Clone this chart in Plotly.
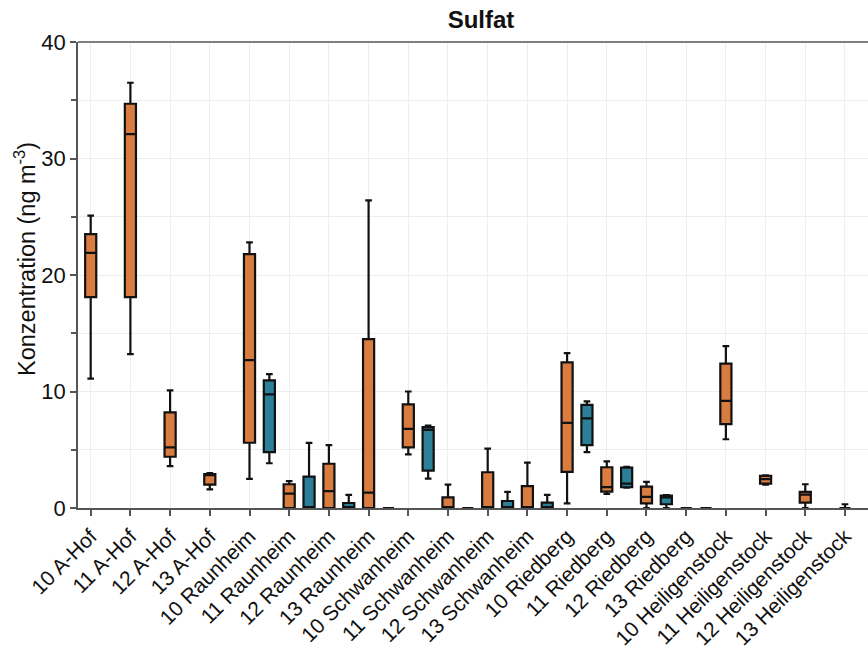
import plotly.graph_objects as go

categories = ["10 A-Hof", "11 A-Hof", "12 A-Hof", "13 A-Hof",
              "10 Raunheim", "11 Raunheim", "12 Raunheim", "13 Raunheim",
              "10 Schwanheim", "11 Schwanheim", "12 Schwanheim", "13 Schwanheim",
              "10 Riedberg", "11 Riedberg", "12 Riedberg", "13 Riedberg",
              "10 Heiligenstock", "11 Heiligenstock", "12 Heiligenstock", "13 Heiligenstock"]

# Orange series (one box per category)
orange_low = [11.1, 13.2, 3.6, 1.6, 2.5, 0.0, 0.0, 0.0, 4.6, 0.0, 0.0, 0.0, 0.4, 1.2, 0.0, 0.0, 5.9, 2.0, 0.0, 0.0]
orange_q1 = [18.1, 18.1, 4.4, 2.0, 5.6, 0.0, 0.0, 0.0, 5.2, 0.0, 0.0, 0.0, 3.1, 1.4, 0.4, 0.0, 7.2, 2.1, 0.46, 0.0]
orange_med = [21.9, 32.1, 5.2, 2.85, 12.7, 1.24, 1.44, 1.32, 6.8, 0.0, 0.0, 0.0, 7.3, 1.8, 0.95, 0.0, 9.2, 2.47, 1.15, 0.0]
orange_q3 = [23.5, 34.7, 8.2, 2.9, 21.8, 2.04, 3.8, 14.5, 8.9, 0.92, 3.07, 1.87, 12.5, 3.5, 1.84, 0.0, 12.4, 2.75, 1.38, 0.0]
orange_high = [25.1, 36.5, 10.1, 3.0, 22.8, 2.3, 5.4, 26.4, 10.0, 2.0, 5.1, 3.9, 13.3, 4.0, 2.24, 0.0, 13.9, 2.8, 2.04, 0.32]

# Teal series (only Raunheim, Schwanheim, Riedberg)
teal_cats = ["10 Raunheim", "11 Raunheim", "12 Raunheim", "13 Raunheim",
             "10 Schwanheim", "11 Schwanheim", "12 Schwanheim", "13 Schwanheim",
             "10 Riedberg", "11 Riedberg", "12 Riedberg", "13 Riedberg"]
teal_low = [3.84, 0.0, 0.0, 0.0, 2.53, 0.0, 0.0, 0.0, 4.8, 1.75, 0.0, 0.0]
teal_q1 = [4.8, 0.0, 0.0, 0.0, 3.2, 0.0, 0.0, 0.0, 5.4, 1.78, 0.32, 0.0]
teal_med = [9.75, 0.0, 0.0, 0.0, 6.7, 0.0, 0.0, 0.0, 7.7, 2.1, 0.9, 0.0]
teal_q3 = [10.95, 2.7, 0.43, 0.0, 6.94, 0.0, 0.6, 0.46, 8.86, 3.47, 1.07, 0.0]
teal_high = [11.5, 5.59, 1.13, 0.0, 7.08, 0.0, 1.38, 1.12, 9.15, 3.53, 1.1, 0.0]

ORANGE = "#D97C40"
TEAL = "#2B7F96"

x_orange = list(range(len(categories)))
x_teal = [categories.index(c) + 0.5 for c in teal_cats]

fig = go.Figure()
fig.add_trace(go.Box(
    x=x_orange, q1=orange_q1, median=orange_med, q3=orange_q3,
    lowerfence=orange_low, upperfence=orange_high,
    fillcolor=ORANGE, line=dict(color="#111111", width=2.2),
    width=0.28, whiskerwidth=0.6, name="orange", showlegend=False,
    hoverinfo="skip"))
fig.add_trace(go.Box(
    x=x_teal, q1=teal_q1, median=teal_med, q3=teal_q3,
    lowerfence=teal_low, upperfence=teal_high,
    fillcolor=TEAL, line=dict(color="#111111", width=2.2),
    width=0.28, whiskerwidth=0.6, name="teal", showlegend=False,
    hoverinfo="skip"))

fig.update_layout(
    width=868, height=646,
    margin=dict(l=78, r=0, t=42, b=138),
    paper_bgcolor="white", plot_bgcolor="white",
    font=dict(family="Liberation Sans, Arial, sans-serif", color="#111111"),
    title=dict(text="<b>Sulfat</b>", x=481 / 868, xanchor="center",
               y=1 - 20 / 646, yanchor="middle",
               font=dict(size=24, color="#111111")),
    boxmode="overlay",
    showlegend=False,
)
fig.update_xaxes(
    range=[-0.32, 19.58], automargin=False,
    tickmode="array", tickvals=x_orange, ticktext=categories,
    tickangle=-45, tickfont=dict(size=21),
    ticks="outside", ticklen=6, tickcolor="#555555", tickwidth=1.5,
    showline=True, linecolor="#555555", linewidth=1.5, mirror=False,
    showgrid=True, gridcolor="#EEEEEE", gridwidth=1, zeroline=False,
)
fig.update_yaxes(
    range=[0, 40], dtick=10, tick0=0, automargin=False,
    tickfont=dict(size=22),
    ticks="outside", ticklen=6, tickcolor="#555555", tickwidth=1.5,
    minor=dict(dtick=5, ticks="outside", ticklen=5, tickcolor="#555555",
               showgrid=True, gridcolor="#EEEEEE"),
    showline=True, linecolor="#555555", linewidth=1.5,
    showgrid=True, gridcolor="#EEEEEE", gridwidth=1, zeroline=False,
)
# y-axis title as annotation for exact placement
fig.add_annotation(text="Konzentration (ng m<sup>-3</sup>)", textangle=-90,
                   xref="paper", yref="paper", x=(25 - 78) / 790, y=(508 - 259) / 466,
                   xanchor="center", yanchor="middle", showarrow=False,
                   font=dict(size=23.5, color="#111111"))
# top border line
fig.add_shape(type="line", xref="paper", yref="paper", x0=0, x1=1, y0=1, y1=1,
              line=dict(color="#555555", width=1.5))

fig.write_html("out.html")
